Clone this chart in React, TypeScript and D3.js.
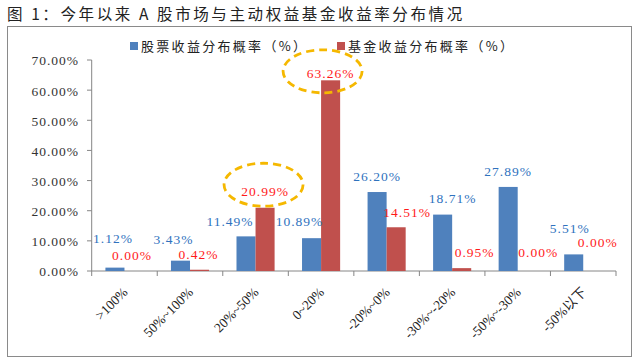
import * as d3 from "d3";

const categories = [">100%", "50%~100%", "20%~50%", "0~20%", "-20%~0%", "-30%~-20%", "-50%~-30%", "-50%以下"];
const stockProb = [1.12, 3.43, 11.49, 10.89, 26.2, 18.71, 27.89, 5.51];
const fundProb = [0.0, 0.42, 20.99, 63.26, 14.51, 0.95, 0.0, 0.0];
const seriesNames = ["股票收益分布概率（%）", "基金收益分布概率（%）"];
const yTicks = [0, 10, 20, 30, 40, 50, 60, 70];
const highlighted = [2, 3]; // fund labels circled in the original

// hand-placed label nudges (dx, dy from bar top), like the original excel chart
const stockNudge = [[-2, -29], [-7, -21], [-16, -15], [-12, -17], [0, -16], [10, -16], [0, -16], [-4, -26]];
const fundNudge = [[-2, -16], [-1, -15], [0, -16], [0, -7], [11, -15], [13, -16], [11, -19], [5, -29]];
const ringNudge = [[-1.5, -7], [-8, -2]];

const W = 637;
const H = 358;
const colors = ["#4F81BD", "#C0504D"];
const labelColors = ["#2F72BE", "#FF1A1A"];
const latin = "'Liberation Serif', 'Noto Sans CJK SC', serif";
const cjk = "'Noto Sans CJK SC', 'Liberation Serif', sans-serif";

export default function App() {
  const x = d3.scaleBand<string>().domain(categories).range([91.7, 616]).padding(0);
  const inner = d3
    .scaleBand<number>()
    .domain([0, 1])
    .range([0, x.bandwidth()])
    .paddingInner(0)
    .paddingOuter(0.72);
  const y = d3.scaleLinear().domain([0, 70]).range([271, 60]);
  const fmt = (v: number) => v.toFixed(2) + "%";
  const series = [stockProb, fundProb];
  const nudges = [stockNudge, fundNudge];

  const labelPos = (s: number, i: number) => {
    const cx = (x(categories[i]) ?? 0) + (inner(s) ?? 0) + inner.bandwidth() / 2;
    const v = series[s][i];
    return [cx + nudges[s][i][0], y(v) + nudges[s][i][1]];
  };

  const bounds = [...categories.map((c) => x(c) ?? 0), x.range()[1]];

  return (
    <div style={{ position: "absolute", left: 0, top: 0 }}>
      <svg width={W} height={H} style={{ display: "block", background: "#fff" }}>
        <text x={7} y={20} fontFamily={cjk} fontSize={15.5} letterSpacing={2.6} fill="#222">
          图 1：今年以来 A 股市场与主动权益基金收益率分布情况
        </text>
        <rect x={7.5} y={26.5} width={624} height={330} fill="none" stroke="#8a8a8a" strokeWidth={1} />

        {/* legend */}
        {seriesNames.map((name, s) => {
          const lx = s === 0 ? 130 : 337;
          return (
            <g key={name}>
              <rect x={lx} y={42} width={8} height={8} fill={colors[s]} />
              <text x={lx + 11} y={51} fontFamily={cjk} fontSize={13} letterSpacing={2.3} fill="#222">
                {name}
              </text>
            </g>
          );
        })}

        {/* y axis */}
        <line x1={91.7} x2={91.7} y1={60} y2={271} stroke="#868686" />
        {yTicks.map((t) => (
          <g key={t}>
            <line x1={87} x2={91.7} y1={y(t)} y2={y(t)} stroke="#868686" />
            <text
              x={79}
              y={y(t)}
              dy="0.4em"
              textAnchor="end"
              fontFamily={latin}
              fontSize={13.5}
              letterSpacing={1}
              fill="#333"
            >
              {t.toFixed(2)}%
            </text>
          </g>
        ))}

        {/* x axis */}
        <line x1={91.7} x2={616} y1={271} y2={271} stroke="#868686" />
        {bounds.map((b, i) => (
          <line key={i} x1={b} x2={b} y1={271} y2={276} stroke="#868686" />
        ))}
        {categories.map((c) => {
          const cx = (x(c) ?? 0) + x.bandwidth() / 2;
          return (
            <text
              key={c}
              transform={`translate(${cx + 4},${293}) rotate(-45)`}
              textAnchor="end"
              fontFamily={latin}
              fontSize={13.5}
              fill="#222"
            >
              {c}
            </text>
          );
        })}

        {/* bars */}
        {series.map((vals, s) =>
          vals.map((v, i) => (
            <rect
              key={`${s}-${i}`}
              x={(x(categories[i]) ?? 0) + (inner(s) ?? 0)}
              y={y(v)}
              width={inner.bandwidth()}
              height={y(0) - y(v)}
              fill={colors[s]}
            />
          ))
        )}

        {/* value labels */}
        {series.map((vals, s) =>
          vals.map((v, i) => {
            const [lx, ly] = labelPos(s, i);
            return (
              <text
                key={`l${s}-${i}`}
                x={lx}
                y={ly}
                dy="0.35em"
                textAnchor="middle"
                fontFamily={latin}
                fontSize={13.5}
                letterSpacing={1}
                fill={labelColors[s]}
              >
                {fmt(v)}
              </text>
            );
          })
        )}

        {/* dashed highlight rings */}
        {highlighted.map((i, k) => {
          const [lx, ly] = labelPos(1, i);
          return (
            <ellipse
              key={`r${i}`}
              cx={lx + ringNudge[k][0]}
              cy={ly + ringNudge[k][1]}
              rx={39.5}
              ry={21.5}
              fill="none"
              stroke="#F5B800"
              strokeWidth={2.8}
              strokeDasharray="8 5"
            />
          );
        })}
      </svg>
    </div>
  );
}
